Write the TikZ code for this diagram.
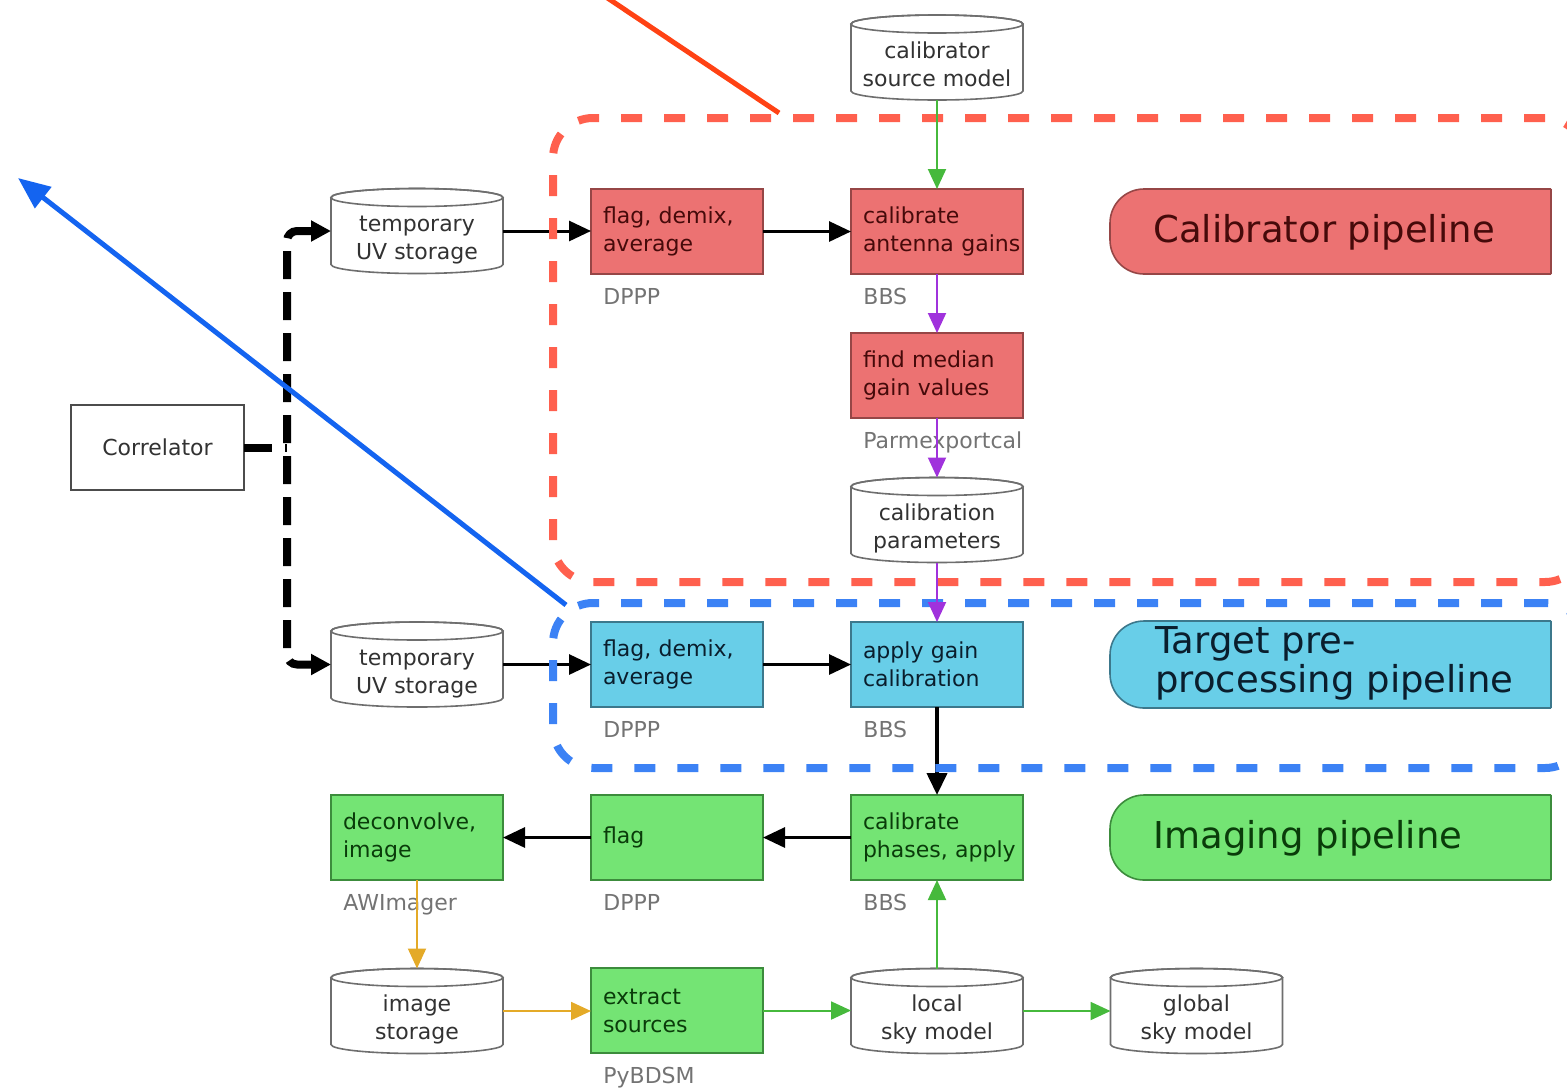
\documentclass[tikz,border=0pt]{standalone}
\usepackage{fontspec}
\setmainfont{DejaVu Sans}
\usetikzlibrary{arrows.meta}

\definecolor{calfill}{RGB}{236,114,114}
\definecolor{calline}{RGB}{150,70,70}
\definecolor{caltext}{RGB}{70,10,10}
\definecolor{tgtfill}{RGB}{104,206,232}
\definecolor{tgtline}{RGB}{60,120,140}
\definecolor{tgttext}{RGB}{10,30,45}
\definecolor{imgfill}{RGB}{116,228,116}
\definecolor{imgline}{RGB}{60,140,60}
\definecolor{imgtext}{RGB}{10,60,10}
\definecolor{cylline}{RGB}{110,110,110}
\definecolor{cyltext}{RGB}{50,50,50}
\definecolor{tooltext}{RGB}{115,115,115}
\definecolor{calzone}{RGB}{255,96,78}
\definecolor{tgtzone}{RGB}{60,130,245}
\definecolor{flowgreen}{RGB}{70,185,60}
\definecolor{flowpurple}{RGB}{160,50,220}
\definecolor{flowgold}{RGB}{228,170,40}
\definecolor{pointred}{RGB}{255,66,20}
\definecolor{pointblue}{RGB}{20,100,240}

\newcommand\boxfont{\fontsize{11}{14}\selectfont}
% cylinder labels sit a little below the centre, under the top ellipse
\newcommand\cyltxt[1]{\raisebox{-4.5pt}[\height][\depth]{\begin{tabular}{@{}c@{}}#1\end{tabular}}}

\begin{document}
\begin{tikzpicture}[x=0.5pt,y=-0.5pt,
  proc/.style={rectangle, draw=#1, line width=0.8pt, minimum width=86pt,
    minimum height=42.5pt, text width=74pt, inner xsep=6pt, inner ysep=0pt,
    outer sep=0pt, align=left, font=\boxfont},
  calbox/.style={proc=calline, fill=calfill, text=caltext},
  tgtbox/.style={proc=tgtline, fill=tgtfill, text=tgttext},
  imgbox/.style={proc=imgline, fill=imgfill, text=imgtext},
  store/.style={rectangle, fill=white, minimum width=88pt, minimum height=44.5pt,
    inner sep=0pt, outer sep=-1pt, align=center, font=\boxfont, text=cyltext,
    path picture={
      \draw[draw=cylline, line width=0.8pt, fill=white]
        ([xshift=1pt,yshift=-5.5pt]path picture bounding box.north west)
        -- ([xshift=1pt,yshift=5.5pt]path picture bounding box.south west)
        arc[start angle=180, end angle=360, x radius=43pt, y radius=4.5pt]
        -- ([xshift=-1pt,yshift=-5.5pt]path picture bounding box.north east)
        arc[start angle=0, end angle=180, x radius=43pt, y radius=4.5pt]
        -- cycle;
      \draw[draw=cylline, line width=0.8pt]
        ([yshift=-5.5pt]path picture bounding box.north)
        ellipse[x radius=43pt, y radius=4.5pt];
    }},
  corrbox/.style={rectangle, draw=black!70, line width=0.8pt, fill=white,
    minimum width=86.5pt, minimum height=42.5pt, outer sep=0pt,
    font=\boxfont, text=cyltext},
  tool/.style={anchor=base west, inner sep=0pt, font=\boxfont, text=tooltext},
  pipebox/.style={rectangle, rounded corners=17pt, draw=#1, line width=0.8pt,
    minimum width=245pt, minimum height=42.5pt, outer sep=0pt},
  pipetext/.style={inner sep=0pt, align=left, font=\fontsize{18.5}{19.5}\selectfont},
  zone/.style={rectangle, rounded corners=20pt, draw=#1, line width=4pt,
    dash pattern=on 10.5pt off 11pt, minimum width=516pt},
  blackflow/.style={draw=black, line width=1.5pt, -{Triangle[length=11pt,width=10pt]}},
  greenflow/.style={draw=flowgreen, line width=1pt, -{Triangle[length=10pt,width=9pt]}},
  purpleflow/.style={draw=flowpurple, line width=1pt, -{Triangle[length=10pt,width=9pt]}},
  goldflow/.style={draw=flowgold, line width=1pt, -{Triangle[length=10pt,width=9pt]}},
  corrline/.style={draw=black, line width=4pt, dash pattern=on 14pt off 6.5pt},
]
\useasboundingbox (0,0) rectangle (1567,1088);
\clip (0,0) rectangle (1567,1088);

% pipeline name tags, cut off at the right edge
\begin{scope}
  \clip (1100,150) rectangle (1551,900);
  \node[pipebox=calline, fill=calfill] (calp) at (1355,231.5) {};
  \node[pipebox=tgtline, fill=tgtfill, minimum height=43.5pt] (tgtp) at (1355,664.5) {};
  \node[pipebox=imgline, fill=imgfill] (imgp) at (1355,837.5) {};
\end{scope}
\draw[calline, line width=0.8pt] (1551,189) -- (1551,274);
\draw[tgtline, line width=0.8pt] (1551,621) -- (1551,708);
\draw[imgline, line width=0.8pt] (1551,795) -- (1551,880);
\node[pipetext, anchor=base west, text=caltext] (calpt) at (1153,242) {Calibrator pipeline};
\node[pipetext, anchor=base west, text=tgttext] (tgtpt) at (1155,692) {Target pre-\\processing pipeline};
\node[pipetext, anchor=base west, text=imgtext] (imgpt) at (1153,848) {Imaging pipeline};

% data stores
\node[store] (csm)  at (937,57.5)  {\cyltxt{calibrator\\source model}};
\node[store] (tuv1) at (417,231)   {\cyltxt{temporary\\UV storage}};
\node[store] (cpar) at (937,520)   {\cyltxt{calibration\\parameters}};
\node[store] (tuv2) at (417,664.5) {\cyltxt{temporary\\UV storage}};
\node[store] (imgs) at (417,1011)  {\cyltxt{image\\storage}};
\node[store] (lsm)  at (937,1011)  {\cyltxt{local\\sky model}};
\node[store] (gsm)  at (1196.5,1011) {\cyltxt{global\\sky model}};

% correlator
\node[corrbox] (corr) at (157.5,447.5) {Correlator};

% processing steps
\node[calbox] (fd1) at (677,231.5) {flag, demix,\\average};
\node[calbox] (cag) at (937,231.5) {calibrate\\\mbox{antenna gains}};
\node[calbox] (fmg) at (937,375.5) {find median\\gain values};
\node[tgtbox] (fd2) at (677,664.5) {flag, demix,\\average};
\node[tgtbox] (agc) at (937,664.5) {apply gain\\calibration};
\node[imgbox] (dec) at (417,837.5) {deconvolve,\\image};
\node[imgbox] (flg) at (677,837.5) {flag};
\node[imgbox] (cpa) at (937,837.5) {calibrate\\\mbox{phases, apply}};
\node[imgbox] (ext) at (677,1010.5) {extract\\sources};

% tools
\node[tool] (tl1) at (603,304)  {DPPP};
\node[tool] (tl2) at (863,304)  {BBS};
\node[tool] (tl3) at (863,448)  {Parmexportcal};
\node[tool] (tl4) at (603,737)  {DPPP};
\node[tool] (tl5) at (863,737)  {BBS};
\node[tool] (tl6) at (343,910)  {AWImager};
\node[tool] (tl7) at (603,910)  {DPPP};
\node[tool] (tl8) at (863,910)  {BBS};
\node[tool] (tl9) at (603,1083) {PyBDSM};

% correlator output, split into the two UV stores
\coordinate (split) at (287,447.5);
\draw[corrline] (corr.east) -- (split);
\draw[corrline, rounded corners=5pt,
  {Triangle[length=10pt,width=10pt]}-{Triangle[length=10pt,width=10pt]}]
  (tuv1.west) -| (split) |- (tuv2.west);

% black data flow
\draw[blackflow] (tuv1.east) -- (tuv1.east -| fd1.west);
\draw[blackflow] (fd1.east) -- (cag.west);
\draw[blackflow] (tuv2.east) -- (fd2.west);
\draw[blackflow] (fd2.east) -- (agc.west);
\draw[blackflow, line width=2pt] (agc.south) -- (cpa.north);
\draw[blackflow] (cpa.west) -- (flg.east);
\draw[blackflow] (flg.west) -- (dec.east);

% pipeline zones
\node[zone=calzone, minimum height=232pt] (calzn) at (1069,350) {};
\node[zone=tgtzone, minimum height=82.5pt] (tgtzn) at (1069,685.5) {};

% calibration solutions
\draw[purpleflow] (cag.south) -- (fmg.north);
\draw[purpleflow] (fmg.south) -- (cpar.north);
\draw[purpleflow] (cpar.south) -- (agc.north);

% sky models
\draw[greenflow] (csm.south) -- (cag.north);
\draw[greenflow] (ext.east) -- (ext.east -| lsm.west);
\draw[greenflow] (lsm.north) -- (cpa.south);
\draw[greenflow] (lsm.east) -- (gsm.west);

% images
\draw[goldflow] (dec.south) -- (imgs.north);
\draw[goldflow] (imgs.east) -- (imgs.east -| ext.west);

% pointers
\coordinate (redstart) at (779,113);
\coordinate (redend) at (603,-5);
\draw[pointred, line width=2.5pt] (redstart) -- (redend);
\coordinate (bluestart) at (566,605);
\coordinate (blueend) at (18,178);
\draw[pointblue, line width=2.5pt, -{Triangle[length=16pt,width=13pt]}] (bluestart) -- (blueend);
\end{tikzpicture}
\end{document}
